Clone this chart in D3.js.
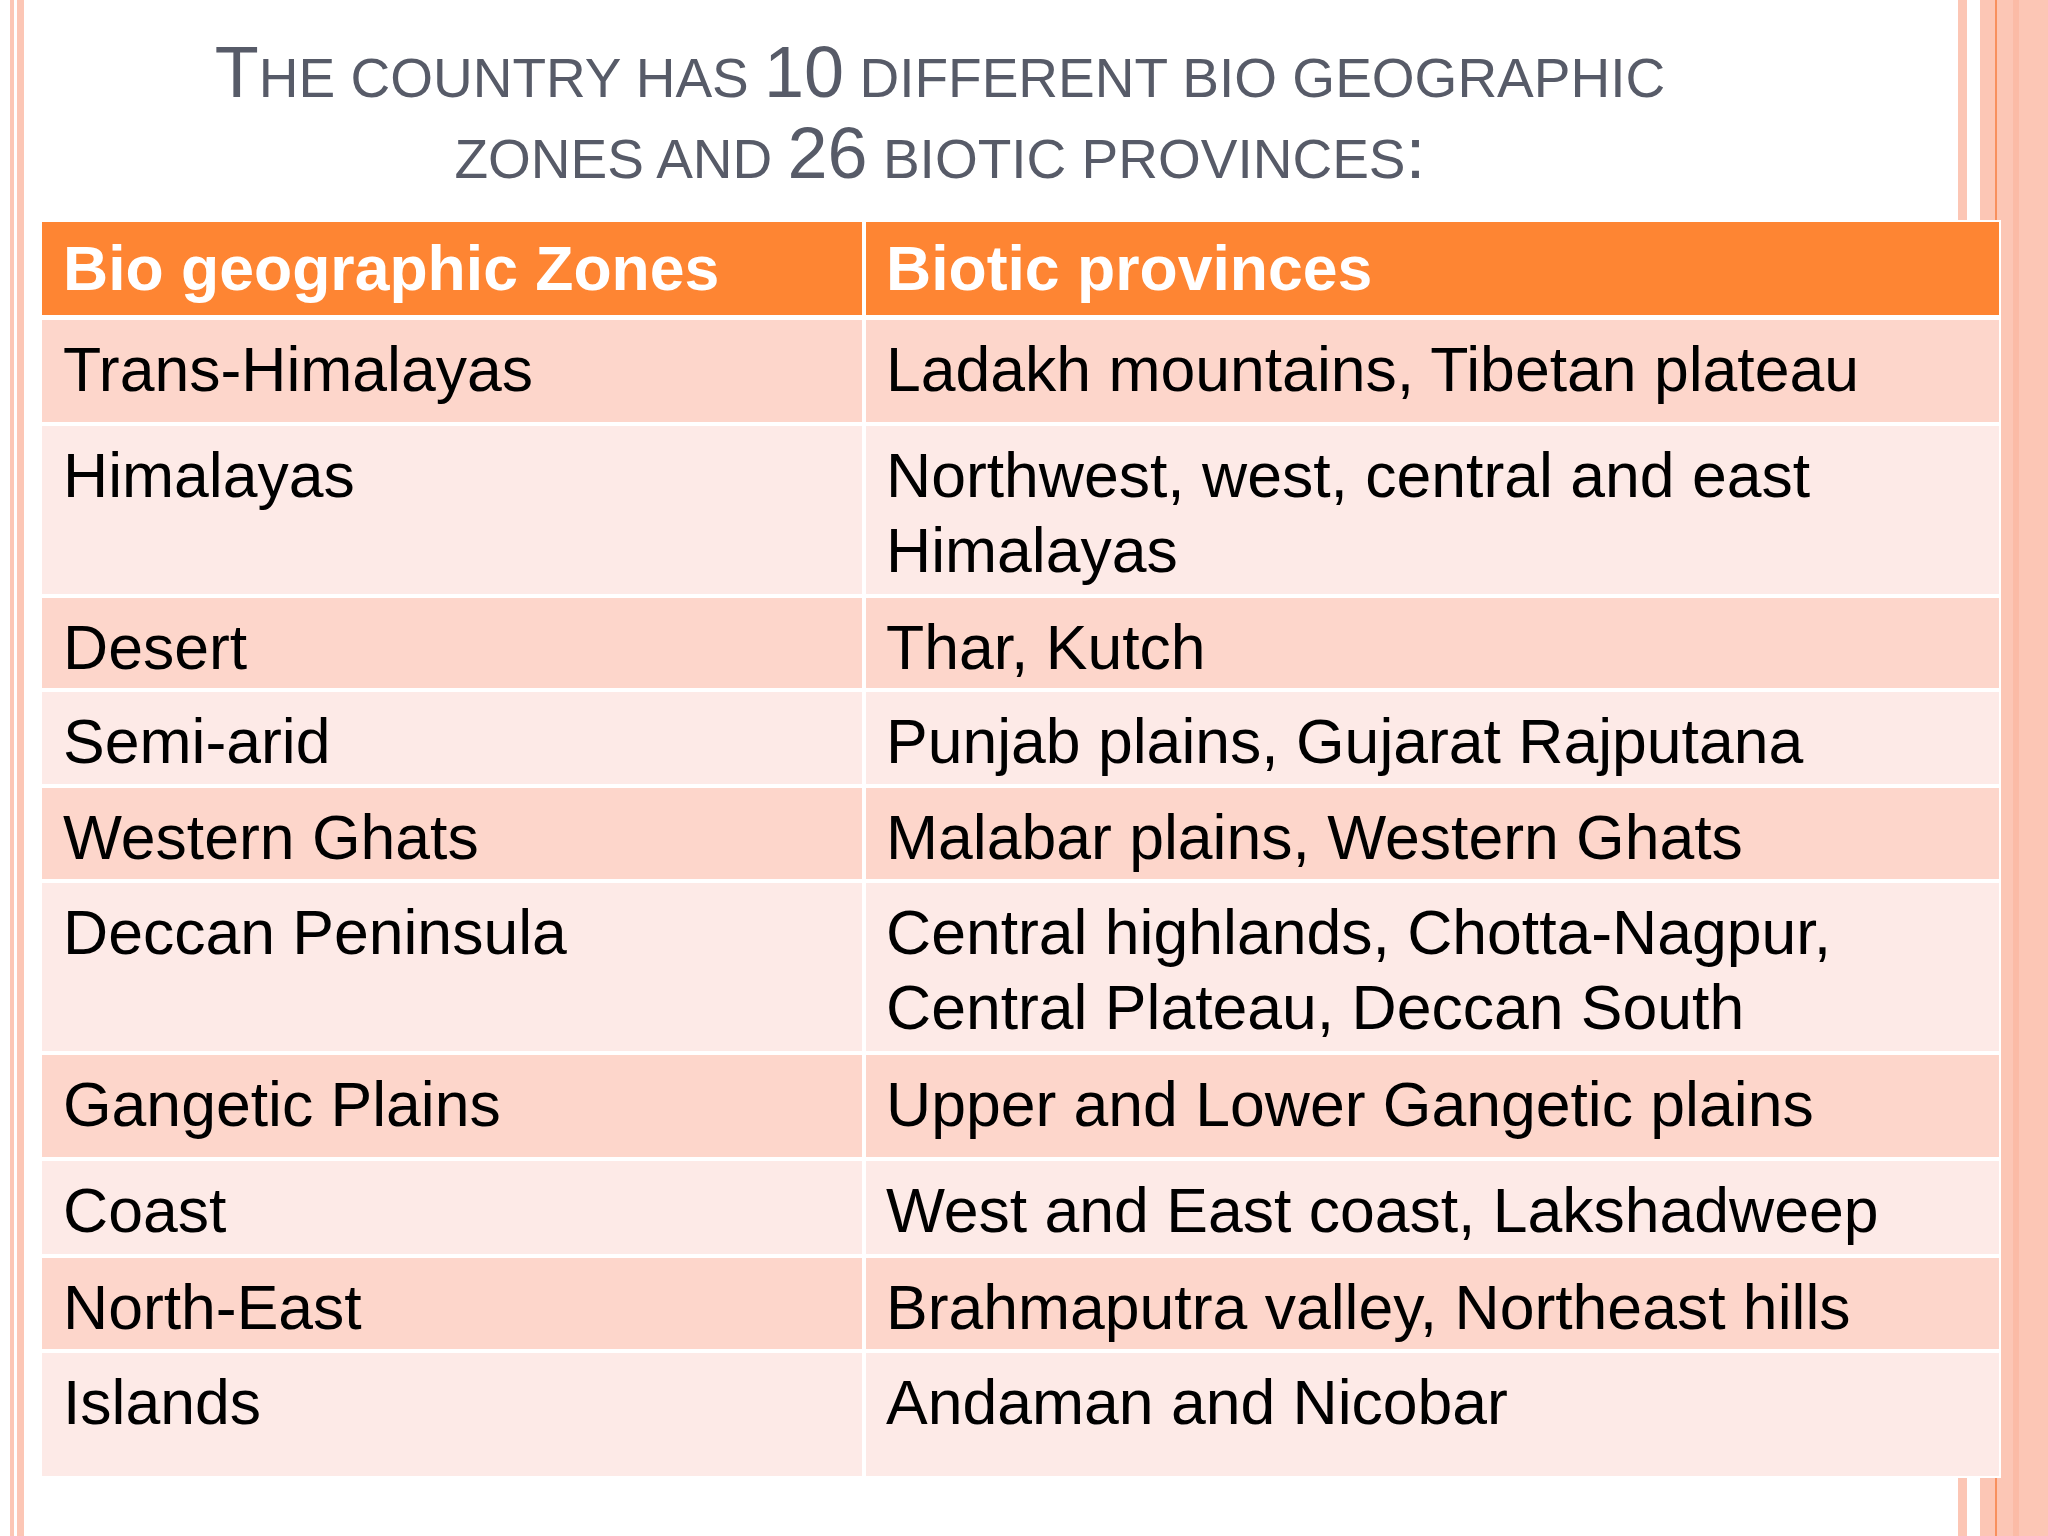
<!DOCTYPE html>
<html><head><meta charset="utf-8">
<script src="https://cdn.jsdelivr.net/npm/d3@7"></script>
<style>body{margin:0;background:#fff}svg{display:block}</style>
</head><body>
<script>
const headers = ["Bio geographic Zones", "Biotic provinces"];
const zones = ["Trans-Himalayas","Himalayas","Desert","Semi-arid","Western Ghats","Deccan Peninsula","Gangetic Plains","Coast","North-East","Islands"];
const provinces = [
  ["Ladakh mountains, Tibetan plateau"],
  ["Northwest, west, central and east","Himalayas"],
  ["Thar, Kutch"],
  ["Punjab plains, Gujarat Rajputana"],
  ["Malabar plains, Western Ghats"],
  ["Central highlands, Chotta-Nagpur,","Central Plateau, Deccan South"],
  ["Upper and Lower Gangetic plains"],
  ["West and East coast, Lakshadweep"],
  ["Brahmaputra valley, Northeast hills"],
  ["Andaman and Nicobar"]
];
const rowTops = [320,426,598,692,788,883,1055,1161,1258,1353];
const rowBottoms = [422,594,688,784,879,1051,1157,1254,1349,1476];

const W=2048,H=1536;
const svg=d3.select("body").append("svg").attr("width",W).attr("height",H);
const F="'Liberation Sans', Arial, sans-serif";
const peach="#fcc6b5";
svg.append("rect").attr("x",10).attr("y",0).attr("width",4).attr("height",H).attr("fill",peach);
svg.append("rect").attr("x",17).attr("y",0).attr("width",7).attr("height",H).attr("fill",peach);
svg.append("rect").attr("x",1958).attr("y",0).attr("width",9).attr("height",H).attr("fill",peach);
svg.append("rect").attr("x",1980).attr("y",0).attr("width",17).attr("height",H).attr("fill",peach);
svg.append("rect").attr("x",1995).attr("y",0).attr("width",2).attr("height",H).attr("fill","#f8905e");
svg.append("rect").attr("x",1997).attr("y",0).attr("width",51).attr("height",H).attr("fill",peach);
svg.append("rect").attr("x",2013).attr("y",0).attr("width",6).attr("height",H).attr("fill","#fbbba6");
svg.append("rect").attr("x",42).attr("y",220).attr("width",1959).attr("height",1258).attr("fill","#fff");

const title=[
  [["T",72],["HE COUNTRY HAS ",55],["10",72],[" DIFFERENT BIO GEOGRAPHIC",55]],
  [["ZONES AND ",55],["26",72],[" BIOTIC PROVINCES",55],[":",72]]
];
title.forEach((parts,i)=>{
  const t=svg.append("text").attr("x",940).attr("y",[97,178][i]).attr("text-anchor","middle")
    .attr("font-family",F).attr("fill","#575b68");
  parts.forEach(p=>t.append("tspan").attr("font-size",p[1]).text(p[0]));
});

svg.append("rect").attr("x",42).attr("y",222).attr("width",820).attr("height",93).attr("fill","#fe8533");
svg.append("rect").attr("x",866).attr("y",222).attr("width",1133).attr("height",93).attr("fill","#fe8533");
headers.forEach((h,i)=>svg.append("text").attr("x",[63,886][i]).attr("y",290).attr("font-family",F)
  .attr("font-weight","bold").attr("font-size",62.5).attr("fill","#fff").text(h));
zones.forEach((z,i)=>{
  const fill = i%2===0 ? "#fdd6cb" : "#fdeae7";
  const y0=rowTops[i], h=rowBottoms[i]-rowTops[i];
  svg.append("rect").attr("x",42).attr("y",y0).attr("width",820).attr("height",h).attr("fill",fill);
  svg.append("rect").attr("x",866).attr("y",y0).attr("width",1133).attr("height",h).attr("fill",fill);
  svg.append("text").attr("x",63).attr("y",y0+71).attr("font-family",F).attr("font-size",62.5).attr("fill","#000").text(z);
  provinces[i].forEach((l,j)=>svg.append("text").attr("x",886).attr("y",y0+71+j*75)
    .attr("font-family",F).attr("font-size",62.5).attr("fill","#000").text(l));
});
</script>
</body></html>
